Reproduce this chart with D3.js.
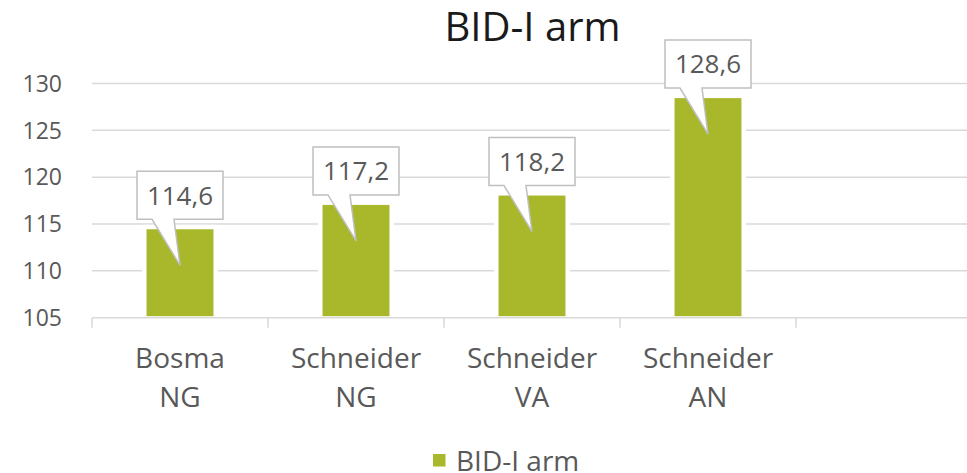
<!DOCTYPE html>
<html>
<head>
<meta charset="utf-8">
<script src="https://cdn.jsdelivr.net/npm/d3@7"></script>
<style>
  body { margin: 0; background: #fff; }
  text { font-family: "Open Sans", "Noto Sans", sans-serif; }
</style>
</head>
<body>
<script>
var categories = [["Bosma","NG"],["Schneider","NG"],["Schneider","VA"],["Schneider","AN"],[""]];
var values = [114.6, 117.2, 118.2, 128.6];
var valueLabels = ["114,6","117,2","118,2","128,6"];
var yTicks = [105,110,115,120,125,130];
var seriesName = "BID-I arm";

var W = 967, H = 473;
var barColor = "#a8b82a";
var gridColor = "#d9d9d9";
var textColor = "#595959";

var svg = d3.select("body").append("svg").attr("width",W).attr("height",H);

var x = d3.scaleBand()
  .domain(d3.range(categories.length))
  .range([92,972]);
var y = d3.scaleLinear().domain([105,130]).range([317.7,83.5]);
var bw = x.bandwidth()*0.38;

// gridlines
svg.selectAll("line.grid")
  .data(yTicks.slice(1))
  .enter().append("line")
    .attr("class","grid")
    .attr("x1",92).attr("x2",972)
    .attr("y1",function(d){return y(d);})
    .attr("y2",function(d){return y(d);})
    .attr("stroke",gridColor).attr("stroke-width",1.5);

// y labels
svg.selectAll("text.ytick")
  .data(yTicks)
  .enter().append("text")
    .attr("class","ytick")
    .attr("x",62)
    .attr("y",function(d){return y(d);})
    .attr("dy","0.36em")
    .attr("text-anchor","end")
    .attr("font-size",23)
    .attr("fill",textColor)
    .text(function(d){return d;});

// bars (white outline to break the gridlines)
svg.selectAll("rect.bar")
  .data(values)
  .enter().append("rect")
    .attr("class","bar")
    .attr("x",function(d,i){return x(i)+x.bandwidth()/2-bw/2;})
    .attr("y",function(d){return y(d)+1.5;})
    .attr("width",bw)
    .attr("height",function(d){return y(105)-y(d)-3;})
    .attr("fill",barColor)
    .attr("stroke","#fff")
    .attr("stroke-width",9)
    .attr("paint-order","stroke");

// x axis
var gx = svg.append("g")
  .attr("transform","translate(0,"+y(105)+")");
gx.append("line").attr("x1",92).attr("x2",972).attr("stroke",gridColor).attr("stroke-width",1.5);
gx.selectAll("line.tk")
  .data(d3.range(categories.length+1))
  .enter().append("line")
    .attr("class","tk")
    .attr("x1",function(d){return 92+d*x.step();})
    .attr("x2",function(d){return 92+d*x.step();})
    .attr("y1",0).attr("y2",10)
    .attr("stroke",gridColor).attr("stroke-width",1.5);

// x labels
var xl = svg.selectAll("text.xlab")
  .data(categories)
  .enter().append("text")
    .attr("class","xlab")
    .attr("text-anchor","middle")
    .attr("font-size",28)
    .attr("fill",textColor);
xl.selectAll("tspan")
  .data(function(d,i){return d.map(function(s){return {s:s,i:i};});})
  .enter().append("tspan")
    .attr("x",function(d){return x(d.i)+x.bandwidth()/2;})
    .attr("y",function(d,j){return 368+j*38.5;})
    .text(function(d){return d.s;});

// callouts
var co = svg.selectAll("g.callout")
  .data(values)
  .enter().append("g")
    .attr("class","callout");
co.append("path")
  .attr("d",function(d,i){
    var cx = x(i)+x.bandwidth()/2, top = y(d)+1.5;
    var bx0 = cx-43, bx1 = cx+43, by1 = top-10, by0 = by1-48;
    return "M"+bx0+","+by0+"L"+bx1+","+by0+"L"+bx1+","+by1+"L"+(cx-6)+","+by1+
      "L"+cx+","+(top+36)+"L"+(cx-28)+","+by1+"L"+bx0+","+by1+"Z";
  })
  .attr("fill","#fff")
  .attr("stroke","#bfbfbf")
  .attr("stroke-width",1.5)
  .attr("stroke-linejoin","miter");
co.append("text")
  .attr("x",function(d,i){return x(i)+x.bandwidth()/2;})
  .attr("y",function(d){return y(d)+1.5-34;})
  .attr("dy","0.36em")
  .attr("text-anchor","middle")
  .attr("font-size",26)
  .attr("fill",textColor)
  .text(function(d,i){return valueLabels[i];});

// title
svg.append("text")
  .attr("x",532.5).attr("y",41)
  .attr("text-anchor","middle")
  .attr("font-size",40)
  .attr("fill","#1a1a1a")
  .text(seriesName);

// legend
svg.append("rect").attr("x",433).attr("y",454).attr("width",12.5).attr("height",12.5).attr("fill",barColor);
svg.append("text")
  .attr("x",456).attr("y",471)
  .attr("font-size",28)
  .attr("fill",textColor)
  .text(seriesName);
</script>
</body>
</html>
